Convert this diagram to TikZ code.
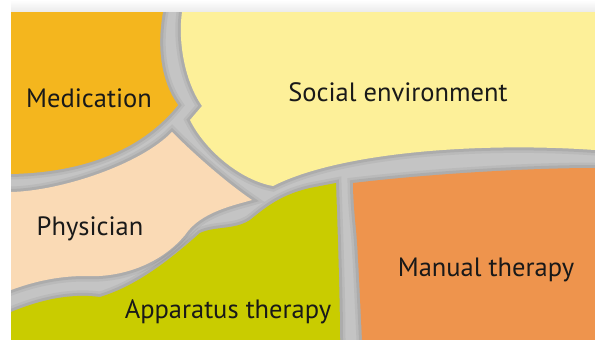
\documentclass[tikz,border=0pt]{standalone}
\usepackage{fontspec}
\setmainfont{PT Sans}
\definecolor{medcol}{HTML}{F4B61E}
\definecolor{soccol}{HTML}{FDF099}
\definecolor{phycol}{HTML}{FADAB5}
\definecolor{appcol}{HTML}{C9CC00}
\definecolor{mancol}{HTML}{EE944D}
\definecolor{gapcol}{HTML}{C4C4C4}
\tikzset{
  piece/.style={preaction={draw=black, line width=11pt, draw opacity=0.05},
                preaction={draw=black, line width=6pt, draw opacity=0.07}},
  label/.style={font=\fontsize{26.5}{30}\selectfont, text=black!90, inner sep=0pt}
}
\begin{document}
\begin{tikzpicture}[x=1pt,y=-1pt]
    \useasboundingbox (0,0) rectangle (595,340);
    \fill[white] (0,0) rectangle (595,340);
    \shade[top color=white, bottom color=black!8] (11,0) rectangle (595,12);
    \fill[gapcol] (11,12) rectangle (595,340);
    \begin{scope}
    \clip (11,12) rectangle (595,340);
    % medication
    \fill[piece, medcol] (11,12) -- (163,12) .. controls (157,45) and (160,80) .. (178,105)
      .. controls (150,140) and (100,172) .. (11,174) -- cycle;
    % social environment
    \fill[piece, soccol] (182,12) -- (595,12) -- (595,150) .. controls (480,142) and (340,152) .. (273,186)
      .. controls (240,180) and (205,150) .. (190,120) -- (202,106)
      .. controls (184,80) and (178,40) .. (182,12) -- cycle;
    % physician
    \fill[piece, phycol] (11,192) .. controls (60,191) and (140,165) .. (172,132)
      .. controls (200,160) and (230,185) .. (252,200)
      .. controls (235,205) and (200,212) .. (185,235)
      .. controls (160,265) and (120,278) .. (85,276)
      .. controls (55,276) and (30,283) .. (11,290) -- cycle;
    % apparatus therapy
    \fill[piece, appcol] (11,312) .. controls (40,300) and (70,293) .. (100,297)
      .. controls (140,285) and (175,255) .. (200,233)
      .. controls (215,226) and (235,230) .. (250,220)
      .. controls (265,208) and (280,195) .. (310,188) -- (336,183)
      .. controls (338,240) and (340,300) .. (340,340) -- (11,340) -- cycle;
    % manual therapy
    \fill[piece, mancol] (353,183) .. controls (420,175) and (520,168) .. (595,168) -- (595,340) -- (362,340)
      .. controls (360,300) and (358,250) .. (356,230)
      .. controls (354,210) and (353,195) .. (353,183) -- cycle;
    \end{scope}
    \node[label] (med) at (89,98) {Medication};
    \node[label] (soc) at (398,92) {Social environment};
    \node[label] (phy) at (90,229) {Physician};
    \node[label] (app) at (228,312) {Apparatus therapy};
    \node[label] (man) at (486,270) {Manual therapy};
\end{tikzpicture}
\end{document}
